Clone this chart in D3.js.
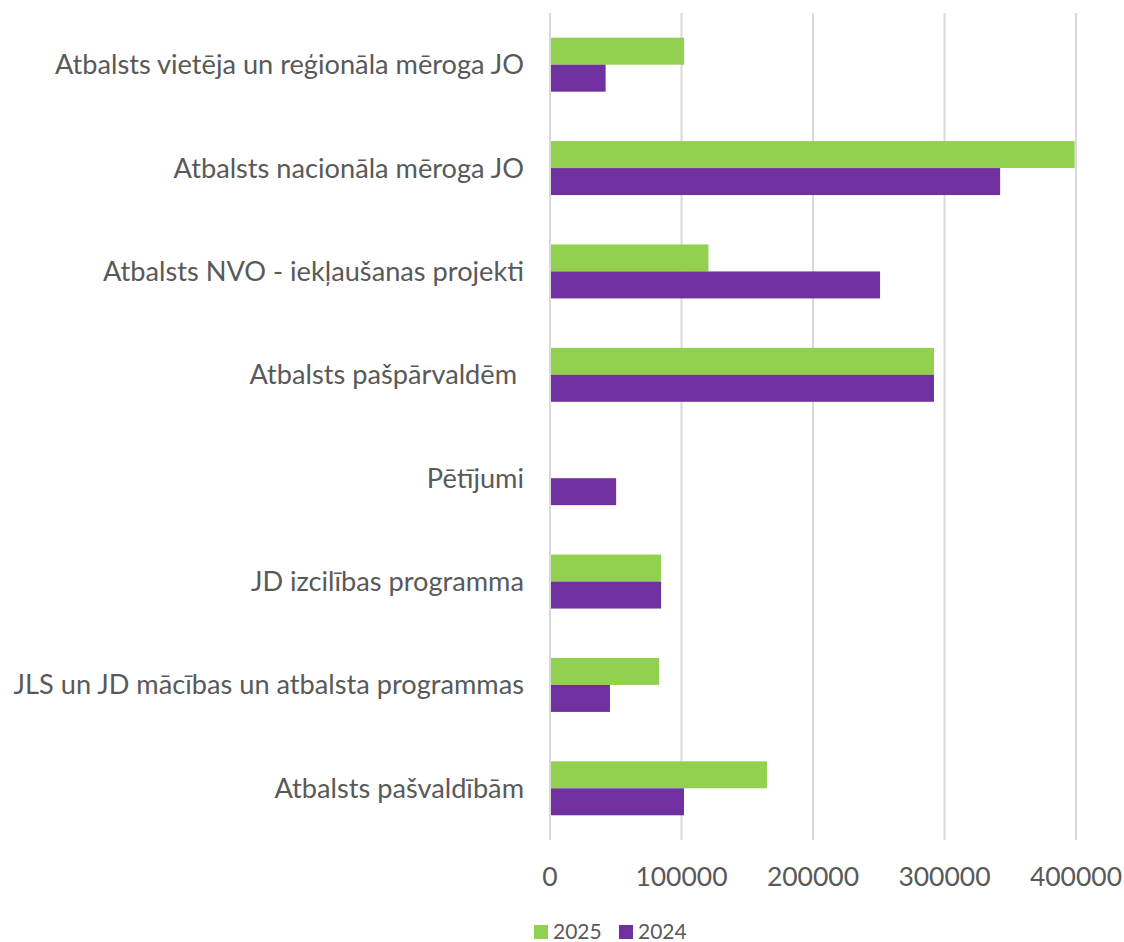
<!DOCTYPE html>
<html>
<head>
<meta charset="utf-8">
<script src="https://cdn.jsdelivr.net/npm/d3@7"></script>
<style>
  body { margin: 0; background: #fff; }
  text { font-family: Lato, "Open Sans", sans-serif; fill: #595959; white-space: pre; }
</style>
</head>
<body>
<div id="chart"></div>
<script>
// ---- data ----
var categories = [
  "Atbalsts vietēja un reģionāla mēroga JO",
  "Atbalsts nacionāla mēroga JO",
  "Atbalsts NVO - iekļaušanas projekti",
  "Atbalsts pašpārvaldēm ",
  "Pētījumi",
  "JD izcilības programma",
  "JLS un JD mācības un atbalsta programmas",
  "Atbalsts pašvaldībām"
];
var values2025 = [102000, 399000, 120500, 292000, 0, 84500, 83000, 165000];
var values2024 = [42300, 342300, 251000, 292000, 50300, 84500, 45600, 101900];
var seriesNames = ["2025", "2024"];
var seriesColors = ["#92D050", "#7030A0"];
var xTicks = [0, 100000, 200000, 300000, 400000];

// ---- layout ----
var width = 1124, height = 942;
var margin = {top: 13, right: 48, bottom: 102, left: 550};

var svg = d3.select("#chart").append("svg")
  .attr("width", width)
  .attr("height", height);

var x = d3.scaleLinear()
  .domain([0, 400000])
  .range([margin.left, width - margin.right]);

var y = d3.scaleBand()
  .domain(categories)
  .range([margin.top, height - margin.bottom])
  .paddingInner(0.478)
  .paddingOuter(0.239);

var ySub = d3.scaleBand()
  .domain(seriesNames)
  .range([0, y.bandwidth()]);

// gridlines
svg.append("g")
  .selectAll("line")
  .data(xTicks)
  .enter().append("line")
  .attr("x1", function(d) { return x(d); })
  .attr("x2", function(d) { return x(d); })
  .attr("y1", margin.top)
  .attr("y2", height - margin.bottom)
  .attr("stroke", "#D9D9D9")
  .attr("stroke-width", 2);

// bars
var rows = categories.map(function(c, i) {
  return {cat: c, vals: [values2025[i], values2024[i]]};
});

var group = svg.append("g")
  .selectAll("g")
  .data(rows)
  .enter().append("g")
  .attr("transform", function(d) { return "translate(0," + y(d.cat) + ")"; });

group.selectAll("rect")
  .data(function(d) {
    return d.vals.map(function(v, j) { return {series: seriesNames[j], value: v, color: seriesColors[j]}; });
  })
  .enter().append("rect")
  .attr("x", x(0) + 1)
  .attr("y", function(d) { return ySub(d.series); })
  .attr("width", function(d) { return Math.max(0, x(d.value) - x(0) - 1); })
  .attr("height", ySub.bandwidth())
  .attr("fill", function(d) { return d.color; });

// category labels
svg.append("g")
  .selectAll("text")
  .data(categories)
  .enter().append("text")
  .attr("x", 524)
  .attr("y", function(d) { return y(d) + y.bandwidth() / 2; })
  .attr("dy", "0.35em")
  .attr("text-anchor", "end")
  .style("font-size", "27.2px")
  .text(function(d) { return d; });

// x tick labels
svg.append("g")
  .selectAll("text")
  .data(xTicks)
  .enter().append("text")
  .attr("x", function(d) { return x(d); })
  .attr("y", 877)
  .attr("dy", "0.35em")
  .attr("text-anchor", "middle")
  .style("font-size", "26.5px")
  .text(function(d) { return d; });

// legend
var legend = svg.append("g")
  .selectAll("g")
  .data(seriesNames)
  .enter().append("g")
  .attr("transform", function(d, i) { return "translate(" + (534 + i * 85) + ",925)"; });

legend.append("rect")
  .attr("width", 14)
  .attr("height", 14)
  .attr("fill", function(d, i) { return seriesColors[i]; });

legend.append("text")
  .attr("x", 19)
  .attr("y", 7)
  .attr("dy", "0.35em")
  .style("font-size", "21px")
  .text(function(d) { return d; });
</script>
</body>
</html>
